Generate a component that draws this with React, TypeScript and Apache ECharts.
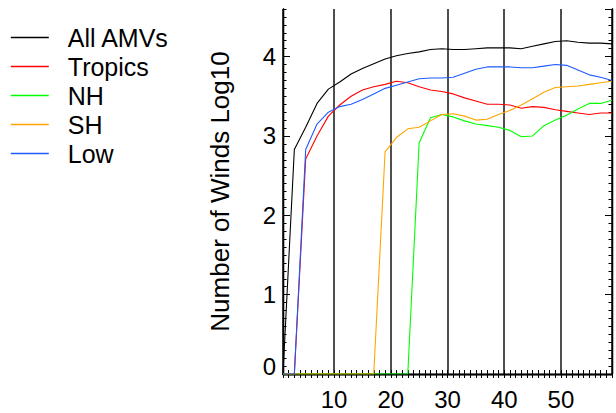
import React, { useEffect, useRef } from "react";
import * as echarts from "echarts";

const xValues = [1, 3, 5, 7, 9, 11, 13, 15, 17, 19, 21, 23, 25, 27, 29, 31, 33, 35, 37, 39, 41, 43, 45, 47, 49, 51, 53, 55, 57, 59];
const allAMVs = [0, 2.83, 3.11, 3.41, 3.59, 3.68, 3.78, 3.85, 3.91, 3.97, 4.01, 4.04, 4.06, 4.09, 4.10, 4.09, 4.09, 4.10, 4.11, 4.11, 4.11, 4.10, 4.13, 4.16, 4.19, 4.20, 4.18, 4.17, 4.17, 4.16];
const tropics = [0, 0, 2.71, 3.00, 3.25, 3.39, 3.50, 3.58, 3.62, 3.65, 3.69, 3.67, 3.62, 3.58, 3.56, 3.53, 3.48, 3.44, 3.40, 3.40, 3.39, 3.35, 3.37, 3.36, 3.33, 3.31, 3.29, 3.27, 3.29, 3.29];
const nh = [0, 0, 0, 0, 0, 0, 0, 0, 0, 0, 0, 0, 2.91, 3.23, 3.27, 3.24, 3.19, 3.15, 3.13, 3.11, 3.07, 2.99, 3.00, 3.13, 3.20, 3.26, 3.34, 3.41, 3.41, 3.45];
const sh = [0, 0, 0, 0, 0, 0, 0, 0, 0, 2.80, 2.98, 3.09, 3.11, 3.19, 3.27, 3.28, 3.25, 3.20, 3.21, 3.27, 3.32, 3.39, 3.47, 3.55, 3.61, 3.62, 3.63, 3.65, 3.67, 3.69];
const low = [0, 0, 2.83, 3.15, 3.30, 3.37, 3.40, 3.46, 3.53, 3.60, 3.64, 3.68, 3.72, 3.73, 3.73, 3.74, 3.79, 3.84, 3.87, 3.87, 3.87, 3.86, 3.86, 3.88, 3.90, 3.89, 3.83, 3.77, 3.74, 3.70];

const seriesNames = ["All AMVs", "Tropics", "NH", "SH", "Low"];
const seriesColors = ["#000000", "#ff0000", "#00ff00", "#ffa500", "#1f5bff"];
const seriesValues = [allAMVs, tropics, nh, sh, low];

const yTitle = "Number of Winds Log10";
const FONT = "'Liberation Sans', Arial, Helvetica, sans-serif";

export default function App() {
  const ref = useRef<HTMLDivElement>(null);
  useEffect(() => {
    if (!ref.current) return;
    const chart = echarts.init(ref.current, null, { renderer: "svg" });
    const frame = { show: true, lineStyle: { color: "#000", width: 1.3 } };
    const minorX = (position: string) => ({
      type: "value",
      position,
      min: 1,
      max: 59,
      interval: 1,
      axisLine: frame,
      axisTick: { show: true, inside: true, length: 4, lineStyle: { color: "#000", width: 1 } },
      axisLabel: { show: false },
      splitLine: { show: false },
    });
    const yAx = (position: string, interval: number, len: number, labels: boolean) => ({
      type: "value",
      position,
      min: 0,
      max: 4.6,
      interval,
      axisLine: frame,
      axisTick: { show: true, inside: true, length: len, lineStyle: { color: "#000", width: 1 } },
      axisLabel: labels
        ? {
            show: true,
            fontSize: 24,
            lineHeight: 15,
            fontFamily: FONT,
            color: "#000",
            margin: 7,
            showMaxLabel: false,
            verticalAlignMinLabel: "bottom",
          }
        : { show: false },
      splitLine: { show: false },
    });
    const mainY: any = yAx("left", 1, 7, true);
    mainY.name = yTitle;
    mainY.nameLocation = "middle";
    mainY.nameGap = 50;
    mainY.nameTextStyle = { fontSize: 26, fontFamily: FONT, color: "#000" };

    chart.setOption({
      animation: false,
      backgroundColor: "#fff",
      grid: { left: 283, top: 9, width: 329, height: 365, containLabel: false },
      legend: {
        orient: "vertical",
        left: 10,
        top: 23,
        padding: 0,
        itemWidth: 38,
        itemHeight: 14,
        itemGap: 0,
        itemStyle: { opacity: 0 },
        lineStyle: { width: 1.6 },
        data: seriesNames,
        textStyle: { fontSize: 25, fontFamily: FONT, color: "#000", lineHeight: 29, padding: [0, 0, 0, 14] },
      },
      xAxis: [
        {
          type: "value",
          position: "bottom",
          min: 1,
          max: 59,
          splitNumber: 5,
          axisLine: frame,
          axisTick: { show: false },
          axisLabel: {
            show: true,
            fontSize: 24,
            fontFamily: FONT,
            color: "#000",
            margin: 13,
            showMinLabel: false,
            showMaxLabel: false,
          },
          splitLine: { show: true, lineStyle: { color: "#222", width: 1.6 } },
        },
        minorX("bottom"),
        minorX("top"),
      ],
      yAxis: [mainY, yAx("left", 0.1, 3.5, false), yAx("right", 1, 7, false), yAx("right", 0.1, 3.5, false)],
      series: seriesNames.map((name, i) => ({
        name,
        type: "line",
        xAxisIndex: 0,
        yAxisIndex: 0,
        symbol: "none",
        clip: true,
        color: seriesColors[i],
        itemStyle: { color: seriesColors[i] },
        lineStyle: { color: seriesColors[i], width: 1.1 },
        data: xValues.map((x, j) => [x, seriesValues[i][j]]),
      })),
    });
    return () => chart.dispose();
  }, []);
  return <div ref={ref} style={{ position: "fixed", left: 0, top: 0, width: 616, height: 413 }} />;
}
